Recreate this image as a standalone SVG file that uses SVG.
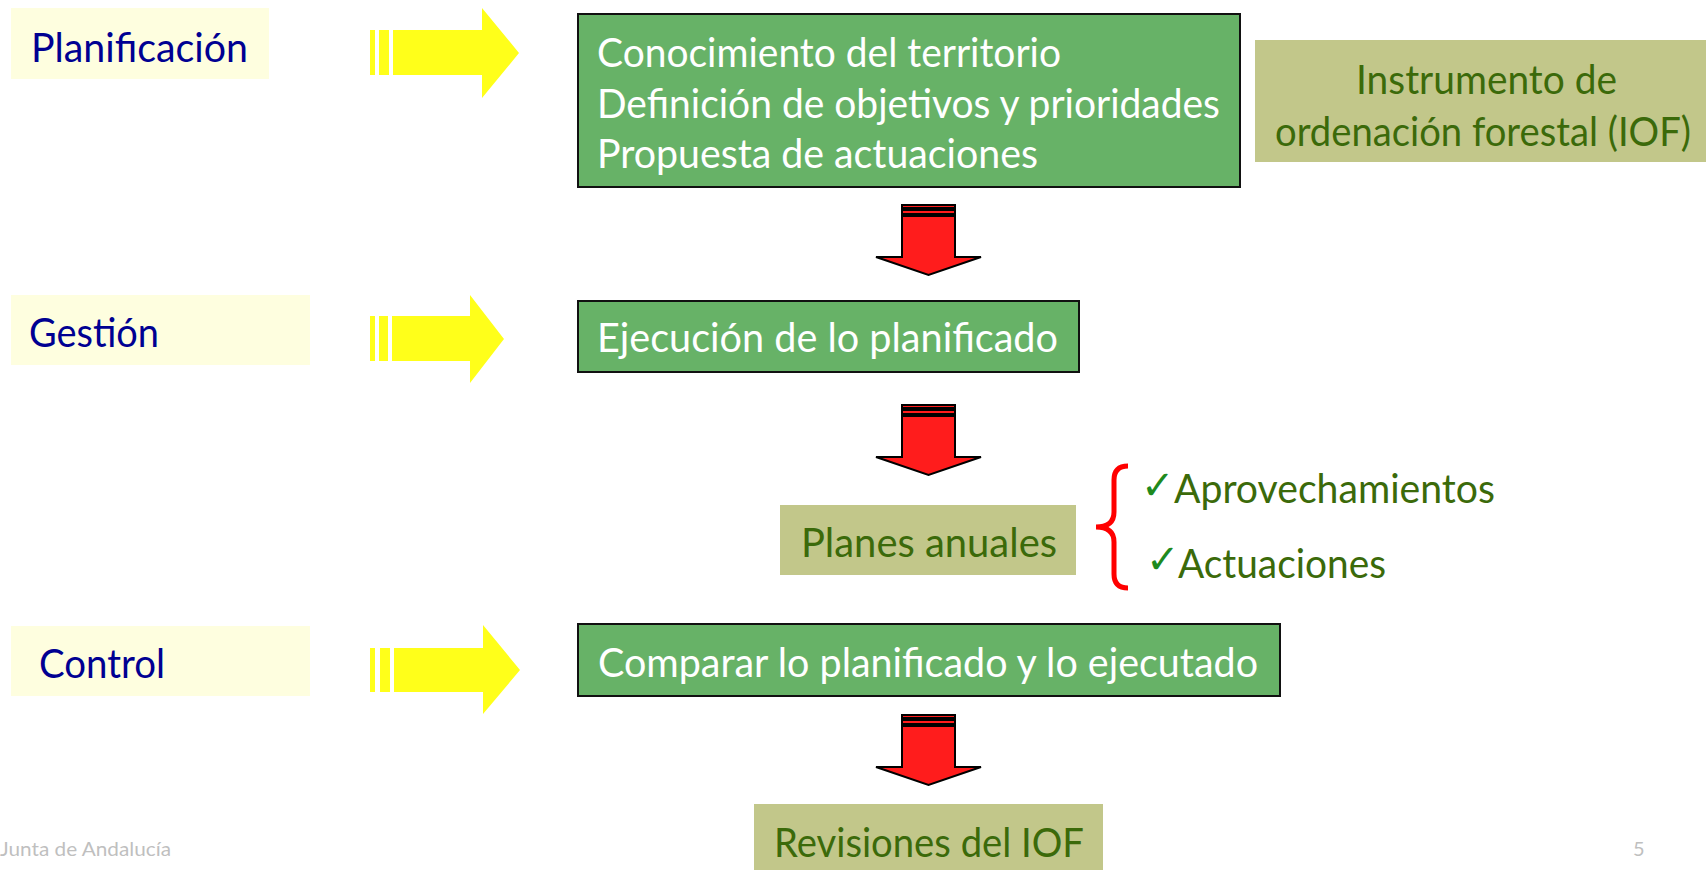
<svg xmlns="http://www.w3.org/2000/svg" width="1706" height="870" viewBox="0 0 1706 870">
<style>
text{font-family:Lato,"Open Sans","Liberation Sans",sans-serif;}
.lbl{fill:#FEFEDF;}
.lt{fill:#000092;font-size:40px;}
.gb{fill:#67B267;stroke:#111;stroke-width:2;}
.wt{fill:#fff;font-size:40px;}
.ob{fill:#C2C78A;}
.ot{fill:#3B6A0A;font-size:40px;}
.ya{fill:#FFFF1A;}
.ra{fill:#FF1C1C;stroke:#000;stroke-width:2;stroke-linejoin:miter;}
.ck{fill:#1E8A1E;font-family:"DejaVu Sans",sans-serif;font-size:40px;font-weight:bold;}
.ft{fill:#BFBFBF;font-size:20px;}
</style>
<defs>
<g id="redArrow">
<rect class="ra" x="902" y="0" width="53" height="3"/>
<rect class="ra" x="902" y="5" width="53" height="4"/>
<polygon class="ra" points="902,11 955,11 955,52 981,52 928.5,70 876,52 902,52"/>
</g>
</defs>

<g id="planificacion">
<rect class="lbl" x="11" y="8" width="258" height="71"/>
<text class="lt" x="31" y="62" textLength="217" lengthAdjust="spacingAndGlyphs">Planificación</text>
</g>
<g id="gestion">
<rect class="lbl" x="11" y="295" width="299" height="70"/>
<text class="lt" x="29" y="347" textLength="130" lengthAdjust="spacingAndGlyphs">Gestión</text>
</g>
<g id="control">
<rect class="lbl" x="11" y="626" width="299" height="70"/>
<text class="lt" x="39" y="678" textLength="126" lengthAdjust="spacingAndGlyphs">Control</text>
</g>

<g id="conocimiento">
<rect class="gb" x="578" y="14" width="662" height="173"/>
<text class="wt" x="597" y="67" textLength="464" lengthAdjust="spacingAndGlyphs">Conocimiento del territorio</text>
<text class="wt" x="597" y="118" textLength="623" lengthAdjust="spacingAndGlyphs">Definición de objetivos y prioridades</text>
<text class="wt" x="597" y="168" textLength="441" lengthAdjust="spacingAndGlyphs">Propuesta de actuaciones</text>
</g>
<g id="iof">
<rect class="ob" x="1255" y="40" width="451" height="122"/>
<text class="ot" x="1356" y="94" textLength="261" lengthAdjust="spacingAndGlyphs">Instrumento de</text>
<text class="ot" x="1275" y="146" textLength="416" lengthAdjust="spacingAndGlyphs">ordenación forestal (IOF)</text>
</g>
<g id="ejecucion">
<rect class="gb" x="578" y="301" width="501" height="71"/>
<text class="wt" x="597" y="352" textLength="461" lengthAdjust="spacingAndGlyphs">Ejecución de lo planificado</text>
</g>
<g id="planes">
<rect class="ob" x="780" y="505" width="296" height="70"/>
<text class="ot" x="801" y="557" textLength="256" lengthAdjust="spacingAndGlyphs">Planes anuales</text>
</g>
<g id="lista">
<path d="M1128,466 Q1114,466 1114,480 L1114,512 Q1114,527 1096,527 Q1114,527 1114,542 L1114,574 Q1114,588 1128,588" fill="none" stroke="#FF0000" stroke-width="5"/>
<text class="ck" x="1141" y="499">✓</text>
<text class="ck" x="1146" y="573">✓</text>
<text class="ot" x="1174" y="503" textLength="321" lengthAdjust="spacingAndGlyphs">Aprovechamientos</text>
<text class="ot" x="1178" y="578" textLength="208" lengthAdjust="spacingAndGlyphs">Actuaciones</text>
</g>
<g id="comparar">
<rect class="gb" x="578" y="624" width="702" height="72"/>
<text class="wt" x="598" y="677" textLength="660" lengthAdjust="spacingAndGlyphs">Comparar lo planificado y lo ejecutado</text>
</g>
<g id="revisiones">
<rect class="ob" x="754" y="804" width="349" height="66"/>
<text class="ot" x="774" y="857" textLength="310" lengthAdjust="spacingAndGlyphs">Revisiones del IOF</text>
</g>

<g id="connectors">
<g id="ya1">
<rect class="ya" x="370" y="30" width="5" height="45"/>
<rect class="ya" x="379" y="30" width="10" height="45"/>
<polygon class="ya" points="393,30 482,30 482,8 519,53 482,98 482,75 393,75"/>
</g>
<g id="ya2">
<rect class="ya" x="370" y="316" width="5" height="45"/>
<rect class="ya" x="379" y="316" width="9" height="45"/>
<polygon class="ya" points="392,316 470,316 470,295 504,339 470,383 470,361 392,361"/>
</g>
<g id="ya3">
<rect class="ya" x="370" y="648" width="5" height="44"/>
<rect class="ya" x="380" y="648" width="10" height="44"/>
<polygon class="ya" points="394,648 483,648 483,625 520,670 483,714 483,692 394,692"/>
</g>
<use href="#redArrow" transform="translate(0,205)"/>
<use href="#redArrow" transform="translate(0,405)"/>
<use href="#redArrow" transform="translate(0,715)"/>
</g>

<g id="footer">
<text class="ft" x="0" y="856" textLength="171" lengthAdjust="spacingAndGlyphs">Junta de Andalucía</text>
<text class="ft" x="1633" y="856">5</text>
</g>
</svg>
